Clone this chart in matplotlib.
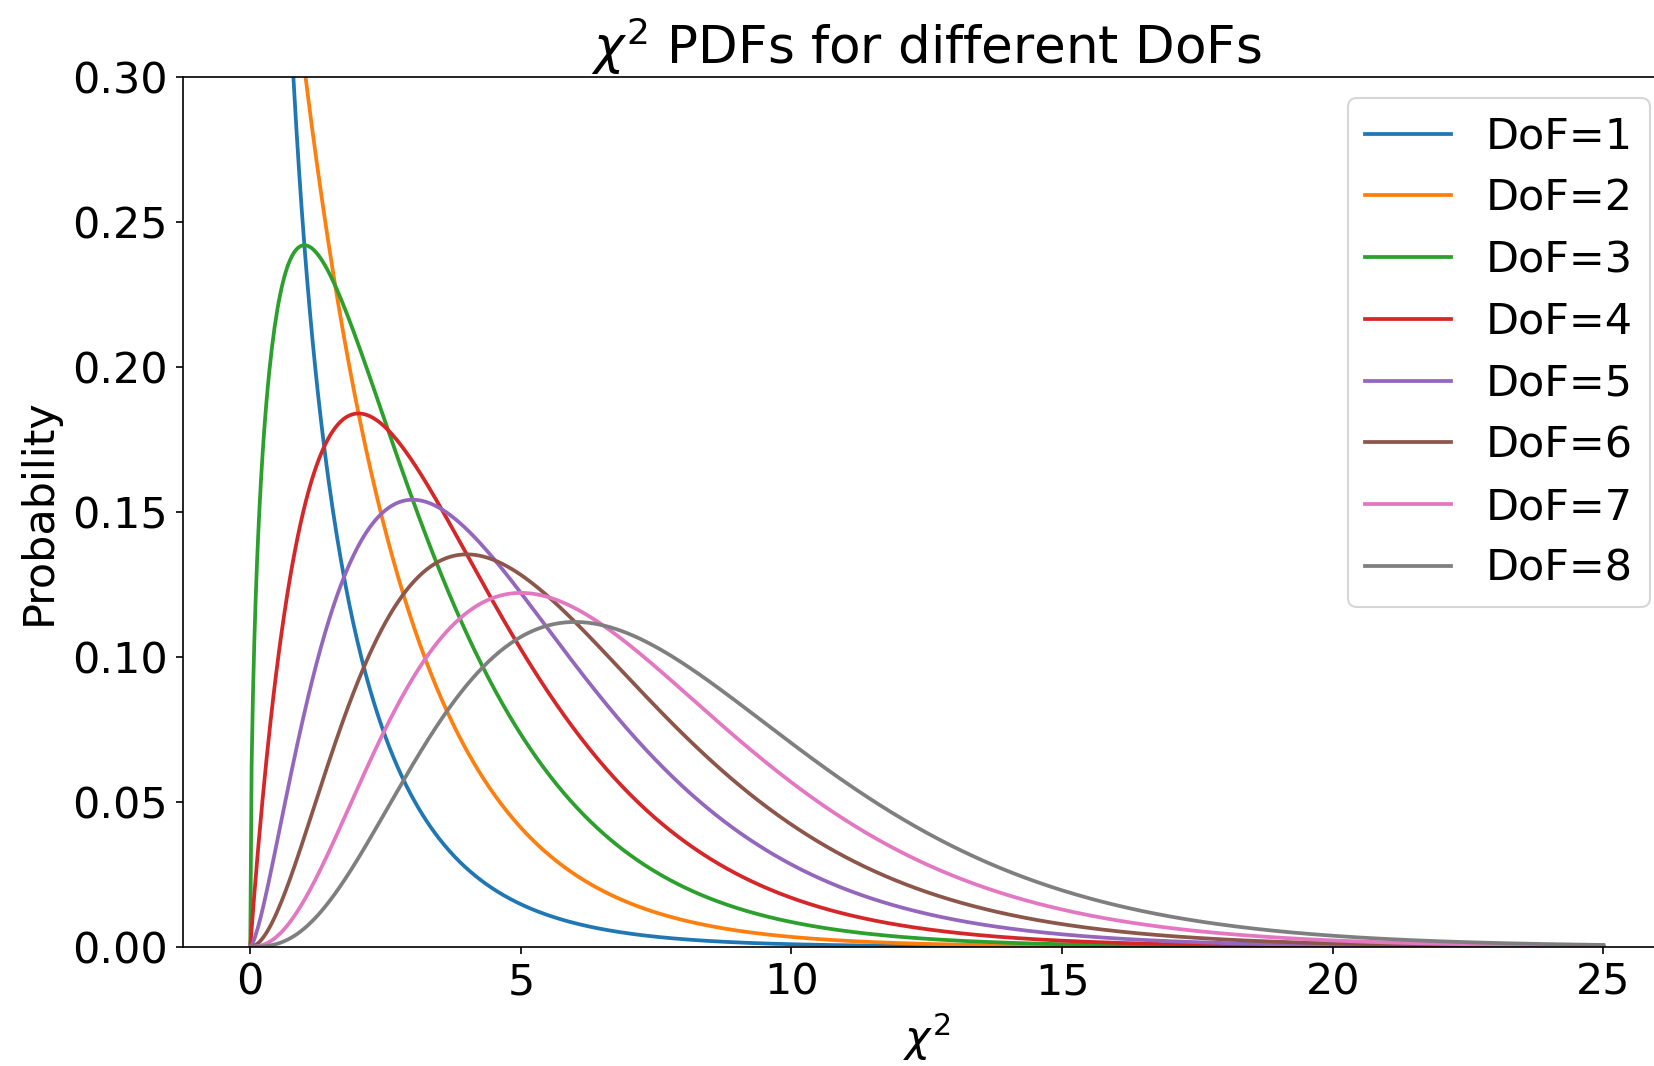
import math
import numpy as np
import matplotlib
matplotlib.use("Agg")
import matplotlib.pyplot as plt

# Data
dofs = [1, 2, 3, 4, 5, 6, 7, 8]
labels = [f"DoF={k}" for k in dofs]
x_min, x_max, n_points = 0.0, 25.0, 1000
y_ticks = [0.00, 0.05, 0.10, 0.15, 0.20, 0.25, 0.30]
x_ticks = [0, 5, 10, 15, 20, 25]

x = np.linspace(x_min, x_max, n_points)


def chi2_pdf(xv, k):
    with np.errstate(divide="ignore", invalid="ignore"):
        return xv ** (k / 2 - 1) * np.exp(-xv / 2) / (2 ** (k / 2) * math.gamma(k / 2))


plt.rcParams["font.size"] = 20.6
plt.rcParams["font.family"] = ["DejaVu Sans"]
plt.rcParams["legend.labelspacing"] = 0.46

W, H, DPI = 1654, 1066, 150
fig = plt.figure(figsize=(W / DPI, H / DPI), dpi=DPI)
left, right, top, bottom = 182.6, 1671.0, 77.0, 946.7
ax = fig.add_axes([left / W, 1 - bottom / H, (right - left) / W, (bottom - top) / H])

for k, lab in zip(dofs, labels):
    ax.plot(x, chi2_pdf(x, k), label=lab, linewidth=1.8)

ax.set_xlim(-1.25, 26.25)
ax.set_ylim(0, 0.3)
ax.set_xticks(x_ticks)
ax.set_yticks(y_ticks)
ax.set_title(r"$\chi^2$ PDFs for different DoFs")
ax.set_xlabel(r"$\chi^2$")
ax.set_ylabel("Probability", labelpad=6)
ax.legend(loc="upper right")

fig.savefig("out.png", dpi=DPI)
